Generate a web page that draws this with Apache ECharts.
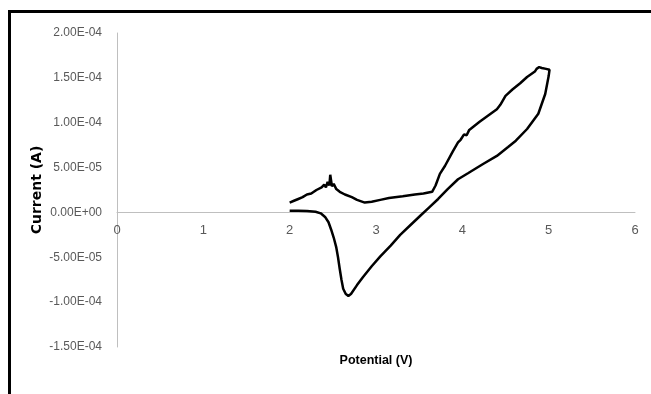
<!DOCTYPE html>
<html>
<head>
<meta charset="utf-8">
<script src="https://cdn.jsdelivr.net/npm/echarts@6/dist/echarts.min.js"></script>
<style>
html,body{margin:0;padding:0;background:#fff;}
#c{width:651px;height:394px;}
</style>
</head>
<body>
<div id="c"></div>
<script>
// Potential (V)
var potential = [
  2.00,2.10,2.20,2.30,2.36,2.41,2.45,2.48,2.51,2.54,2.56,2.58,2.60,2.62,2.65,2.68,2.71,2.78,2.85,2.95,
  3.05,3.17,3.28,3.40,3.51,3.62,3.72,3.83,3.95,4.07,4.24,4.40,4.53,4.62,4.75,4.88,4.96,5.00,5.01,
  4.97,4.92,4.89,4.86,4.84,4.75,4.67,4.58,4.50,4.44,4.40,4.30,4.20,4.12,4.08,4.05,4.02,3.98,3.95,3.89,
  3.80,3.74,3.69,3.65,3.55,3.45,3.31,3.15,3.05,2.95,2.87,2.78,2.72,2.64,2.58,2.54,2.51,2.49,2.47,2.46,
  2.44,2.42,2.40,2.37,2.35,2.31,2.25,2.20,2.15,2.10,2.05,2.00
];
// Current (A)
var current = [
  2.0e-6,1.8e-6,1.5e-6,8e-7,-1e-6,-5e-6,-1.1e-5,-1.9e-5,-2.8e-5,-3.9e-5,-5.0e-5,-6.3e-5,-7.5e-5,-8.5e-5,-9.1e-5,-9.3e-5,-9.1e-5,-8.1e-5,-7.2e-5,-6.0e-5,
  -4.9e-5,-3.7e-5,-2.5e-5,-1.4e-5,-4e-6,6e-6,1.5e-5,2.6e-5,3.7e-5,4.4e-5,5.4e-5,6.3e-5,7.3e-5,8.0e-5,9.3e-5,1.1e-4,1.32e-4,1.52e-4,1.59e-4,
  1.60e-4,1.61e-4,1.62e-4,1.60e-4,1.57e-4,1.51e-4,1.44e-4,1.37e-4,1.30e-4,1.20e-4,1.15e-4,1.08e-4,1.01e-4,9.5e-5,9.2e-5,8.6e-5,8.7e-5,8.1e-5,7.8e-5,6.8e-5,
  5.2e-5,4.3e-5,3.0e-5,2.3e-5,2.1e-5,2.0e-5,1.8e-5,1.6e-5,1.4e-5,1.2e-5,1.1e-5,1.4e-5,1.7e-5,2.0e-5,2.3e-5,2.6e-5,3.2e-5,2.9e-5,4.2e-5,3.0e-5,
  3.4e-5,2.8e-5,3.1e-5,2.8e-5,3.0e-5,2.5e-5,2.1e-5,2.0e-5,1.7e-5,1.5e-5,1.3e-5,1.1e-5
];
var xTitle = 'Potential (V)';
var yTitle = 'Current (A)';

function sci(v){
  if (Math.abs(v) < 1e-12) return '0.00E+00';
  var s = v.toExponential(2).toUpperCase();
  var m = s.split('E');
  var e = parseInt(m[1],10);
  var sign = e < 0 ? '-' : '+';
  var a = Math.abs(e);
  return m[0] + 'E' + sign + (a < 10 ? '0' + a : '' + a);
}

var pts = potential.map(function(x,i){ return [x, current[i]]; });
var labelFont = '"Liberation Sans", sans-serif';

var gridTop = 33, gridBottom = 47, H = 394;
var plotH = H - gridTop - gridBottom;
var yMin = -1.5e-4, yMax = 2e-4;
var zeroFromBottom = plotH * (0 - yMin) / (yMax - yMin);

var chart = echarts.init(document.getElementById('c'), null, {renderer:'canvas'});
chart.setOption({
  animation:false,
  backgroundColor:'#ffffff',
  grid:{left:117, right:16, top:gridTop, bottom:gridBottom, containLabel:false},
  xAxis:{
    type:'value', min:0, max:6, interval:1,
    offset:-zeroFromBottom,
    axisLine:{onZero:false, lineStyle:{color:'#bfbfbf', width:1}},
    axisTick:{show:false},
    splitLine:{show:false},
    axisLabel:{color:'#595959', fontFamily:labelFont, fontSize:13, margin:11}
  },
  yAxis:{
    type:'value', min:yMin, max:yMax, interval:5e-5,
    axisLine:{show:true, lineStyle:{color:'#bfbfbf', width:1}},
    axisTick:{show:false},
    splitLine:{show:false},
    axisLabel:{color:'#595959', fontFamily:labelFont, fontSize:12, margin:15, formatter:sci}
  },
  graphic:[
    {type:'line', shape:{x1:9.5, y1:11, x2:9.5, y2:394}, style:{stroke:'#000', lineWidth:3}},
    {type:'line', shape:{x1:8, y1:11.5, x2:651, y2:11.5}, style:{stroke:'#000', lineWidth:3}},
    {type:'text', x:37, y:190, rotation:Math.PI/2,
     style:{text:yTitle, fill:'#000', font:'bold 14px "DejaVu Sans", sans-serif', textAlign:'center', textVerticalAlign:'middle'}},
    {type:'text', x:376, y:361,
     style:{text:xTitle, fill:'#000', font:'bold 12.5px "Liberation Sans", sans-serif', textAlign:'center', textVerticalAlign:'middle'}}
  ],
  series:[{
    type:'line',
    data:pts,
    showSymbol:false,
    symbol:'none',
    smooth:false,
    lineStyle:{color:'#000', width:2.5},
    z:5
  }]
});
</script>
</body>
</html>
